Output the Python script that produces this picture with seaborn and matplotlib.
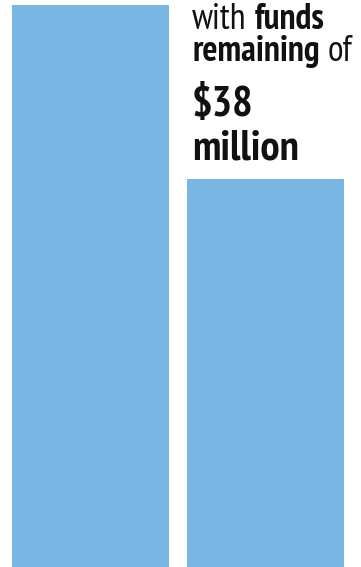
import matplotlib
matplotlib.use("Agg")
import matplotlib.pyplot as plt
import seaborn as sns
import pandas as pd
from matplotlib import font_manager as fm
from matplotlib.transforms import IdentityTransform

# ---- data ----
categories = ["Total funds", "Funds remaining"]
values = [55, 38]
line1 = [("with", "normal"), ("funds", "bold")]
line2 = [("remaining", "bold"), ("of", "normal")]
line3 = [("$38", "bold")]
line4 = [("million", "bold")]

BAR_COLOR = "#79B6E3"
TEXT_COLOR = "#111111"

names = {f.name for f in fm.fontManager.ttflist}
FAMILY = next((n for n in ["PT Sans Narrow", "Fira Sans Condensed", "Roboto Condensed",
                           "Liberation Sans Narrow", "Roboto"] if n in names), "DejaVu Sans")

sns.set_style("white")
plt.rcParams["font.family"] = [FAMILY, "DejaVu Sans"]

W, H, DPI = 361, 567, 100
fig = plt.figure(figsize=(W / DPI, H / DPI), dpi=DPI)
ax = fig.add_axes([0, 0, 1, 1])

df = pd.DataFrame({"category": categories, "value": values})
sns.barplot(data=df, x="category", y="value", color=BAR_COLOR, saturation=1,
            width=0.897, ax=ax)
for p in ax.patches:
    p.set_edgecolor("none")

step = 175.0
ax.set_xlim(-90.5 / step, (W - 90.5) / step)
ppu = 562.0 / values[0]
ax.set_ylim(0, H / ppu)
ax.axis("off")

fig.canvas.draw()
renderer = fig.canvas.get_renderer()

def draw_line(segments, x0, baseline_from_top, size):
    x = x0
    y = H - baseline_from_top
    for i, (txt, weight) in enumerate(segments):
        if i > 0:
            x += size * (100 / 72) * 0.22
        t = fig.text(x, y, txt, transform=IdentityTransform(), fontsize=size,
                     fontweight=weight, color=TEXT_COLOR, va="baseline", ha="left")
        bb = t.get_window_extent(renderer)
        x = bb.x1

draw_line(line1, 192, 29, 25.7)
draw_line(line2, 192, 61, 25.7)
draw_line(line3, 192, 116, 31)
draw_line(line4, 192, 160, 31)

fig.savefig("out.png", dpi=DPI)
